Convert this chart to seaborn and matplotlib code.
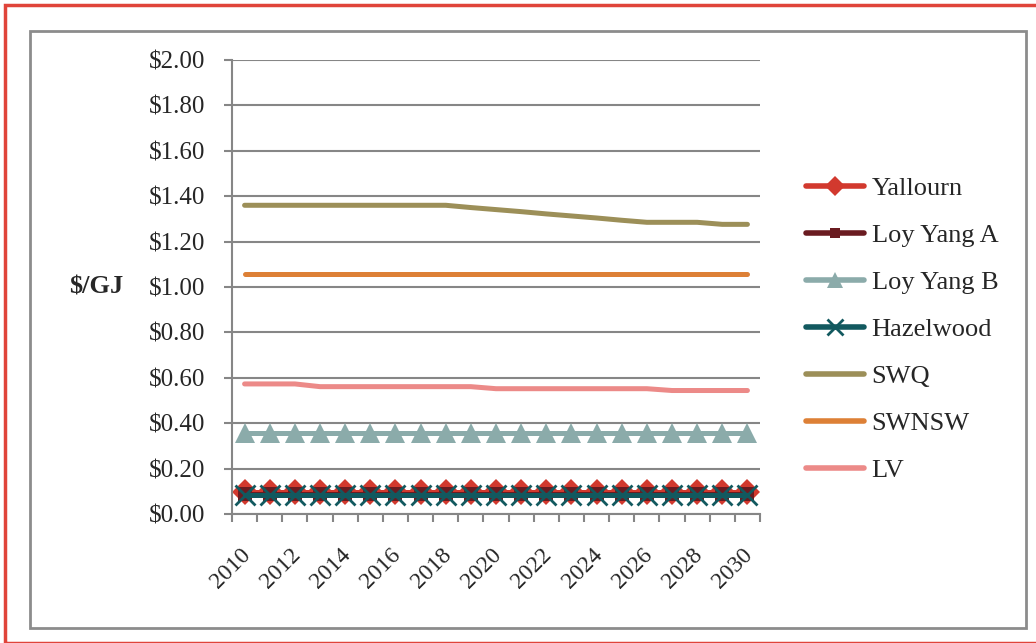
import matplotlib
matplotlib.use("Agg")
import matplotlib.pyplot as plt
from matplotlib.patches import Rectangle
from matplotlib.lines import Line2D
from matplotlib.ticker import FuncFormatter, FixedLocator, NullFormatter
import seaborn as sns
import pandas as pd

sns.set_theme(style="white")
plt.rcParams['font.family'] = ['Liberation Serif', 'DejaVu Serif']

years = list(range(2010, 2031))
yallourn = [0.095] * 21
loy_yang_a = [0.09] * 21
loy_yang_b = [0.355] * 21
hazelwood = [0.085] * 21
swq = [1.36, 1.36, 1.36, 1.36, 1.36, 1.36, 1.36, 1.36, 1.36, 1.350, 1.341,
       1.332, 1.322, 1.313, 1.304, 1.294, 1.285, 1.285, 1.285, 1.276, 1.276]
swnsw = [1.056] * 21
lv = [0.573, 0.573, 0.573, 0.561, 0.561, 0.561, 0.561, 0.561, 0.561, 0.561, 0.552,
      0.552, 0.552, 0.552, 0.552, 0.552, 0.552, 0.544, 0.544, 0.544, 0.544]

series = {
    "Yallourn": yallourn,
    "Loy Yang A": loy_yang_a,
    "Loy Yang B": loy_yang_b,
    "Hazelwood": hazelwood,
    "SWQ": swq,
    "SWNSW": swnsw,
    "LV": lv,
}
styles = {
    "Yallourn": dict(color="#D2392E", marker="D", markersize=13),
    "Loy Yang A": dict(color="#6A1B20", marker="s", markersize=10),
    "Loy Yang B": dict(color="#8BABAA", marker="^", markersize=15),
    "Hazelwood": dict(color="#12595F", marker="x", markersize=14, markeredgewidth=2),
    "SWQ": dict(color="#9C8F58", marker=None),
    "SWNSW": dict(color="#DD8036", marker=None),
    "LV": dict(color="#EC8A88", marker=None),
}

df = pd.DataFrame({"year": years, **series})
df["pos"] = range(len(years))

fig = plt.figure(figsize=(10.36, 6.43), dpi=100)
W, H = 1036, 643
fig.patches.append(Rectangle((5 / W, 0), 1.2, 1 - 5 / H, transform=fig.transFigure,
                             fill=False, edgecolor="#E0443A", linewidth=2.5))
fig.patches.append(Rectangle((30 / W, 1 - 628 / H), (1026 - 30) / W, (628 - 31) / H,
                             transform=fig.transFigure, fill=False,
                             edgecolor="#8C8C8C", linewidth=2))

ax = fig.add_axes([232 / W, 1 - 514 / H, (760 - 232) / W, (514 - 60) / H])

handles = []
for name in series:
    st = styles[name]
    mec = st["color"] if st["marker"] == "x" else "none"
    sns.lineplot(data=df, x="pos", y=name, ax=ax, color=st["color"], linewidth=3.6,
                 marker=st["marker"], markersize=st.get("markersize", 0),
                 markeredgewidth=st.get("markeredgewidth", 0),
                 markeredgecolor=mec, solid_capstyle="round", legend=False)
    handles.append(Line2D([], [], color=st["color"], linewidth=4,
                          solid_capstyle="round", marker=st["marker"],
                          markersize=st.get("markersize", 0) * 0.78,
                          markeredgewidth=st.get("markeredgewidth", 0),
                          markeredgecolor=mec))

ax.set_xlim(-0.5, 20.5)
ax.set_ylim(0, 2.0)
ax.set_yticks([i * 0.2 for i in range(11)])
ax.yaxis.set_major_formatter(FuncFormatter(lambda v, p: f"${v:.2f}"))
ax.yaxis.grid(True, color="#868686", linewidth=1.5)
ax.set_axisbelow(True)

# tick marks on category boundaries, labels on every other category
ax.xaxis.set_major_locator(FixedLocator([i - 0.5 for i in range(22)]))
ax.xaxis.set_major_formatter(NullFormatter())
ax.set_xticks([i - 0.2 for i in range(0, 21, 2)], minor=True)
ax.set_xticklabels([str(y) for y in years[::2]], minor=True, rotation=45,
                   ha="right", va="top", rotation_mode="anchor")
ax.tick_params(axis="x", which="major", direction="out", length=6, width=1.5,
               color="#868686", bottom=True)
ax.tick_params(axis="x", which="minor", length=0, pad=22, labelsize=17, bottom=True)
ax.tick_params(axis="y", direction="out", length=6, width=1.5, color="#868686",
               pad=13, labelsize=18, left=True)

for s in ["top", "right"]:
    ax.spines[s].set_visible(False)
for s in ["left", "bottom"]:
    ax.spines[s].set_color("#868686")
    ax.spines[s].set_linewidth(1.5)

ax.set_xlabel("")
ax.set_ylabel("")
fig.text(96 / W, 1 - 287 / H, "$/GJ", fontsize=19, fontweight="bold",
         ha="center", va="center")

ax.legend(handles=handles, labels=list(series), loc="upper left",
          bbox_to_anchor=(795 / W, 1 - 166 / H), bbox_transform=fig.transFigure,
          frameon=False, fontsize=19, handlelength=2.2, handletextpad=0.3,
          labelspacing=0.89, borderaxespad=0)

fig.savefig("out.png", dpi=100)
